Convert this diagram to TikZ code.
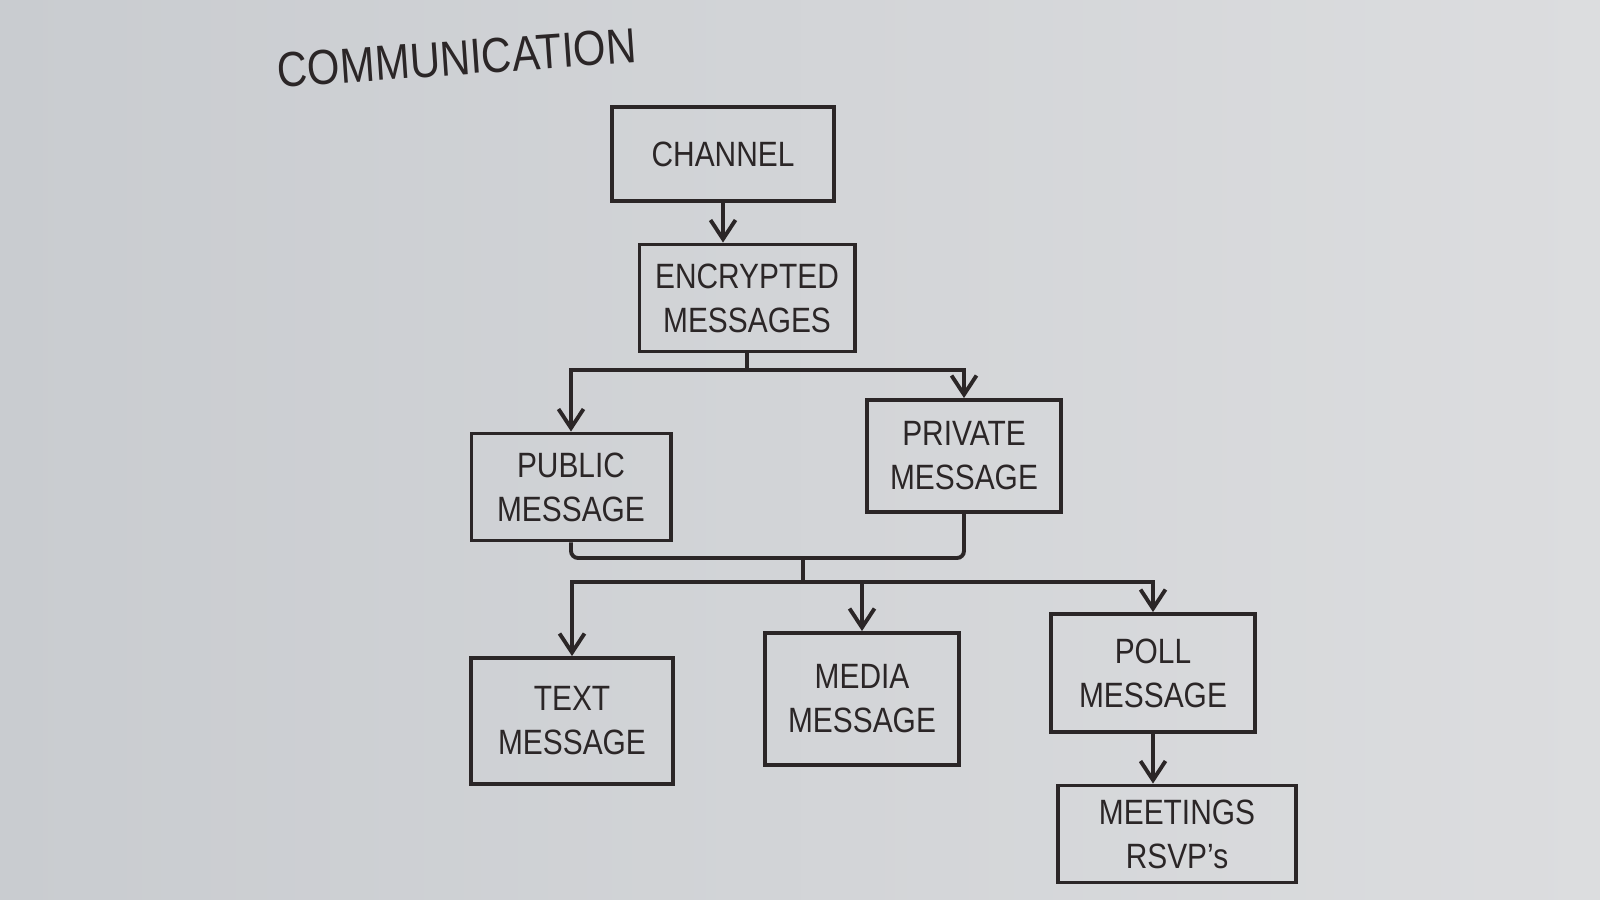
\documentclass[tikz,border=0pt]{standalone}
\usepackage{fontspec}
\setmainfont[FakeStretch=0.85]{Liberation Sans}
\usetikzlibrary{arrows.meta}
\definecolor{ink}{HTML}{2B2627}
\definecolor{paperL}{HTML}{C9CCD0}
\definecolor{paperR}{HTML}{DCDDDF}
\begin{document}
\begin{tikzpicture}[x=0.01cm,y=-0.01cm,
  box/.style={draw=ink, line width=1.1pt, text=ink, align=center, inner sep=0pt,
    font=\fontsize{10}{12.5}\selectfont},
  conn/.style={draw=ink, line width=1.1pt},
  mergeline/.style={conn, rounded corners=2pt},
  arr/.style={conn, -{Straight Barb[length=1.9mm,width=2.5mm]}},
  titlestyle/.style={text=ink, font=\fontsize{14}{16}\selectfont}]
\shade[left color=paperL, right color=paperR] (0,0) rectangle (1600,900);
\useasboundingbox (0,0) rectangle (1600,900);

\node[titlestyle, rotate=4] (title) at (457,58) {COMMUNICATION};

\node[box, minimum width=2.22cm, minimum height=0.94cm] (ch)   at (723,154) {CHANNEL};
\node[box, minimum width=2.15cm, minimum height=1.07cm] (enc)  at (747,298) {ENCRYPTED\\MESSAGES};
\node[box, minimum width=1.99cm, minimum height=1.07cm] (pub)  at (571,487) {PUBLIC\\MESSAGE};
\node[box, minimum width=1.94cm, minimum height=1.12cm] (priv) at (964,456) {PRIVATE\\MESSAGE};
\node[box, minimum width=2.02cm, minimum height=1.26cm] (txt)  at (572,721) {TEXT\\MESSAGE};
\node[box, minimum width=1.94cm, minimum height=1.32cm] (med)  at (862,699) {MEDIA\\MESSAGE};
\node[box, minimum width=2.04cm, minimum height=1.18cm] (poll) at (1153,673) {POLL\\MESSAGE};
\node[box, minimum width=2.38cm, minimum height=0.97cm] (meet) at (1177,834) {MEETINGS\\RSVP's};

\coordinate (j1) at (747,370);
\coordinate (j2) at (803,558);
\coordinate (j3) at (803,582);

\draw[arr] (ch.south) -- (ch.south |- enc.north);
\draw[conn] (enc.south) -- (j1);
\draw[arr] (j1) -| (pub.north);
\draw[arr] (j1) -| (priv.north);
\draw[mergeline] (pub.south) |- (j2);
\draw[mergeline] (priv.south) |- (j2);
\draw[conn] (j2) -- (j3);
\draw[arr] (j3) -| (txt.north);
\draw[arr] (j3) -| (med.north);
\draw[arr] (j3) -| (poll.north);
\draw[arr] (poll.south) -- (poll.south |- meet.north);
\end{tikzpicture}
\end{document}
